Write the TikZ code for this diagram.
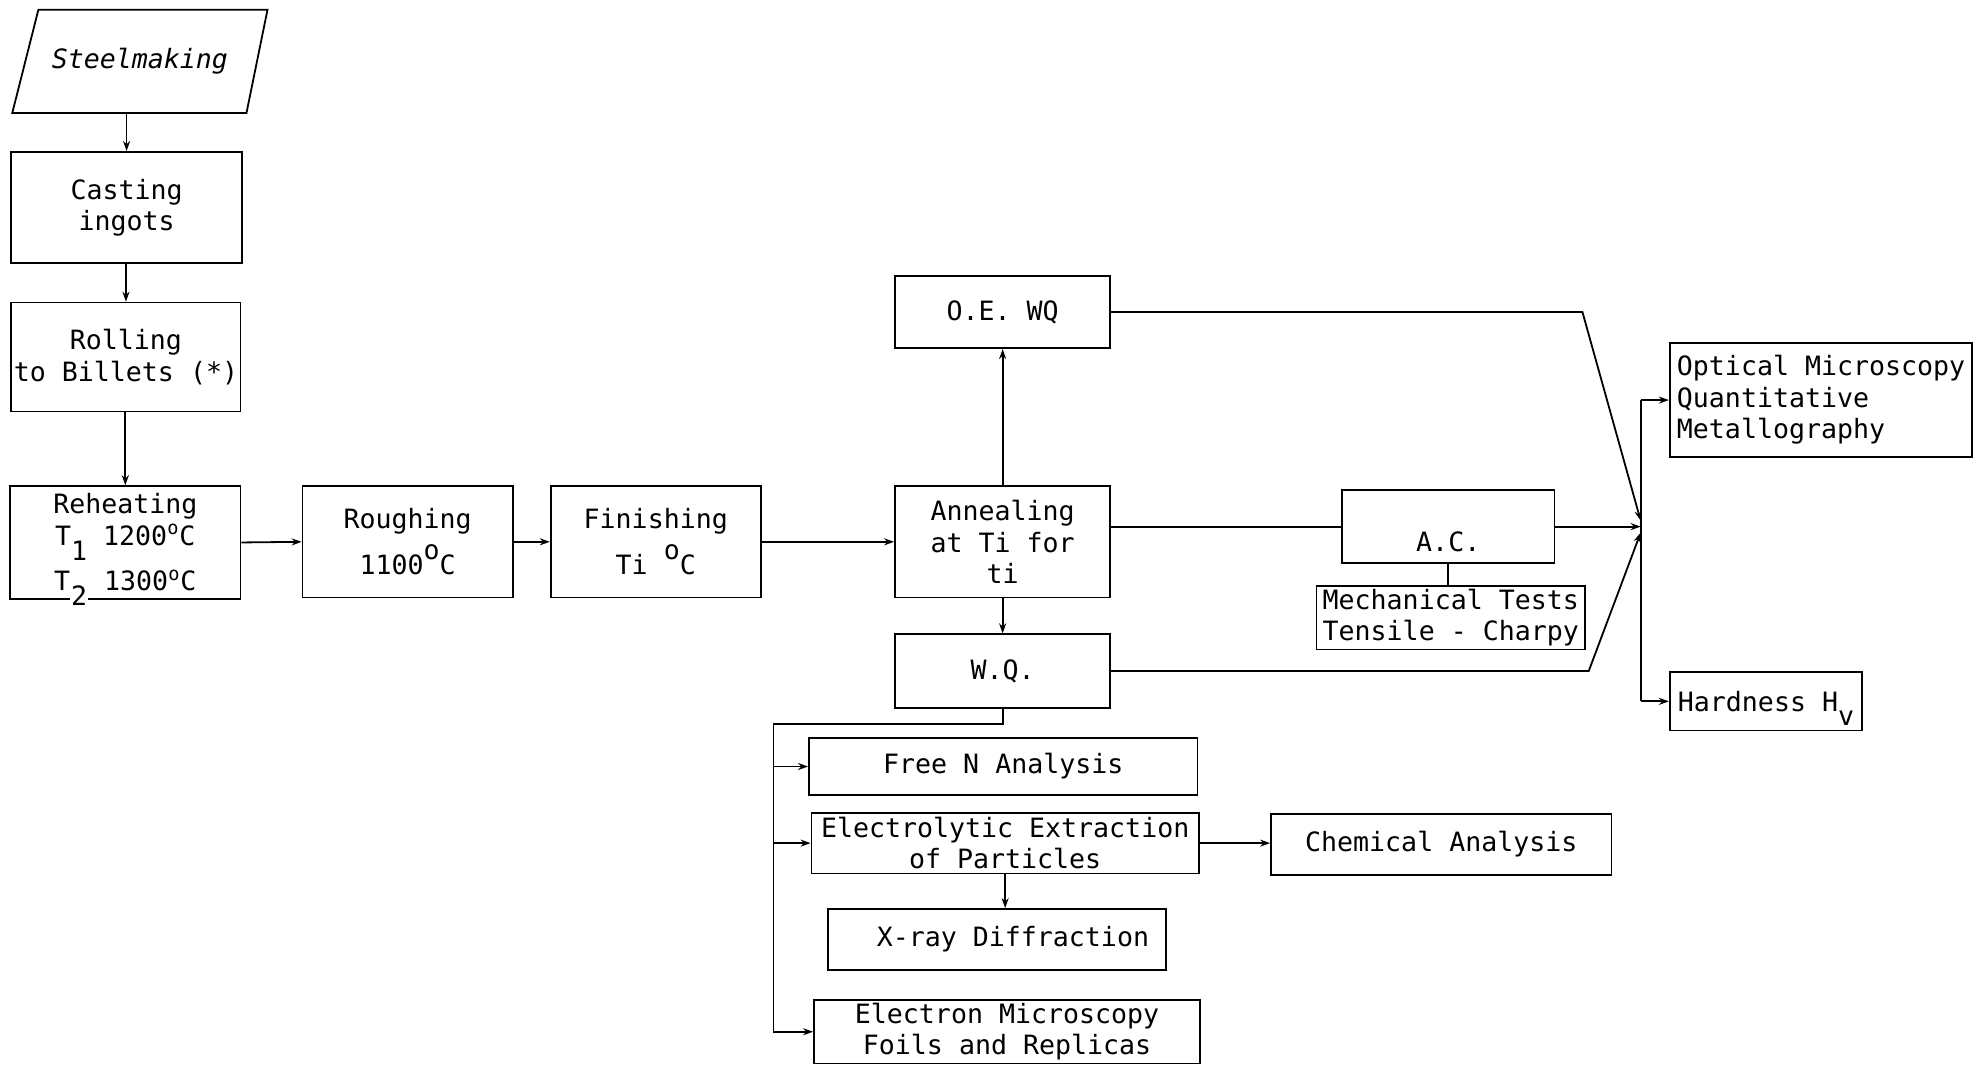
\documentclass[tikz,border=0pt]{standalone}
\usepackage{fontspec}
\setmainfont{DejaVu Sans Mono}
\usetikzlibrary{arrows.meta}
% typewriter-style half-line shifts for indices
\newcommand\lowr[1]{\raisebox{-0.55em}[0pt][0pt]{#1}}
\newcommand\highr[1]{\raisebox{0.55em}[0pt][0pt]{#1}}
\begin{document}
\begin{tikzpicture}[x=0.633pt,y=-0.633pt,
  font=\fontsize{13.3}{15.8}\selectfont,
  box/.style={draw, line width=0.9pt, inner sep=0pt, align=center},
  boxsize/.style 2 args={minimum width=#1*0.633pt, minimum height=#2*0.633pt},
  link/.style={line width=0.9pt},
  arr/.style={link, -{Stealth[length=5pt,width=3.5pt]}}]
\useasboundingbox (0,0) rectangle (1568,843);

% ---- production route ----
\node[boxsize={201}{81}, inner sep=0pt] (steel) at (110.5,48.5) {\itshape Steelmaking};
\draw[link] (steel.south west) -- ++(185,0) -- (steel.north east) -- ++(-181,0) -- cycle;

\node[box,boxsize={182}{88}] (casting) at (100,164) {Casting\\ingots};
\node[box,boxsize={181}{86}] (rolling) at (99.5,282) {Rolling\\to Billets (*)};
\node[box,boxsize={182}{89}] (reheat) at (99,428.5)
  {Reheating\\T\lowr{1} 1200\textsuperscript{o}C\\[7pt]T\lowr{{\fboxsep=0.5pt\colorbox{white}{2}}} 1300\textsuperscript{o}C};
\node[box,boxsize={166}{88}] (rough) at (322,428) {Roughing\\[7pt]1100\highr{o}C};
\node[box,boxsize={166}{88}] (finish) at (518,428) {Finishing\\[7pt]Ti \highr{o}C};
\node[box,boxsize={170}{88}] (anneal) at (792,428) {Annealing\\at Ti for\\ti};
\node[box,boxsize={170}{57}] (oewq) at (792,246.5) {O.E. WQ};
\node[box,boxsize={170}{58}] (wq) at (792,530) {W.Q.};
\node[box,boxsize={168}{58},label={[yshift=-7.6pt]center:A.C.}] (ac) at (1144,416) {};
\node[box,boxsize={212}{50}] (mech) at (1146,488) {Mechanical Tests\\Tensile - Charpy};

% ---- examination ----
\node[box,boxsize={239}{90},align=left] (optical) at (1438.5,316) {Optical Microscopy\\Quantitative\\Metallography};
\node[box,boxsize={152}{46}] (hard) at (1395,554) {Hardness H\lowr{v}};
\node[box,boxsize={307}{45}] (freen) at (792.5,605.5) {Free N Analysis};
\node[box,boxsize={306}{48}] (electro) at (794,666) {Electrolytic Extraction\\of Particles};
\node[box,boxsize={269}{48}] (chem) at (1138.5,667) {Chemical Analysis};
\node[box,boxsize={267}{48}] (xray) at (787.5,742) {\hspace*{16pt}X-ray Diffraction};
\node[box,boxsize={305}{50}] (electron) at (795.5,815) {Electron Microscopy\\Foils and Replicas};

% ---- connectors ----
\draw[arr] (casting.north |- steel.south) -- (casting.north);
\draw[arr] (rolling.north |- casting.south) -- (rolling.north);
\draw[arr] (reheat.north |- rolling.south) -- (reheat.north);
\draw[arr] (reheat.east) -- (rough.west);
\draw[arr] (rough.east) -- (finish.west);
\draw[arr] (finish.east) -- (anneal.west);
\draw[arr] (anneal.north) -- (oewq.south);
\draw[arr] (anneal.south) -- (wq.north);
\draw[link] (anneal.east |- ac.west) -- (ac.west);
\draw[link] (ac.south) -- (ac.south |- mech.north);

\coordinate (jn) at (1296,416);
\coordinate (bendtop) at (1250,246.5);
\coordinate (bendlow) at (1255,530);
\draw[arr] (oewq.east) -- (bendtop) -- ([yshift=3pt]jn);
\draw[arr] (wq.east) -- (bendlow) -- ([yshift=-3pt]jn);
\draw[arr] (ac.east) -- (jn);
\draw[link] (jn |- optical.west) -- (jn |- hard.west);
\draw[arr] (jn |- optical.west) -- (optical.west);
\draw[arr] (jn |- hard.west) -- (hard.west);

\coordinate (fork) at (611,572);
\draw[arr] (wq.south) -- (wq.south |- fork) -- (fork) -- (fork |- electron.west) -- (electron.west);
\draw[arr] (fork |- freen.west) -- (freen.west);
\draw[arr] (fork |- electro.west) -- (electro.west);
\draw[arr] (electro.east) -- (electro.east -| chem.west);
\draw[arr] (electro.south) -- (electro.south |- xray.north);
\end{tikzpicture}
\end{document}
